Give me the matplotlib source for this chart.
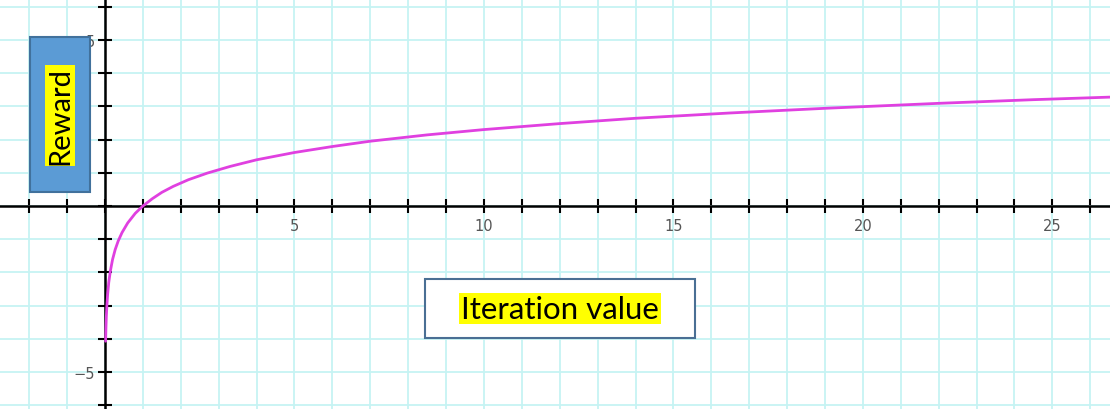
import matplotlib.pyplot as plt
from matplotlib.patches import Rectangle
from matplotlib.ticker import FixedLocator, FuncFormatter

# values
iteration = [0.017, 0.025, 0.035, 0.05, 0.07, 0.1, 0.14, 0.2, 0.27, 0.35, 0.45,
             0.6, 0.8, 1.0, 1.25, 1.5, 1.8, 2.2, 2.7, 3.3, 4.0, 5.0, 6.0, 7.0,
             8.5, 10.0, 12.0, 14.0, 16.5, 19.0, 22.0, 24.5, 26.6]
reward = [-4.07, -3.69, -3.35, -3.0, -2.66, -2.30, -1.97, -1.61, -1.31, -1.05,
          -0.80, -0.51, -0.22, 0.0, 0.22, 0.41, 0.59, 0.79, 0.99, 1.19, 1.39,
          1.61, 1.79, 1.95, 2.14, 2.30, 2.48, 2.64, 2.80, 2.94, 3.09, 3.20, 3.28]

x_ticks = list(range(-2, 27))
y_ticks = list(range(-6, 7))
x_label = "Iteration value"
y_label = "Reward"

fig = plt.figure(figsize=(11.1, 4.1), dpi=100)
ax = fig.add_axes([0, 0, 1, 1])
ax.set_xlim(-2.77, 26.52)
ax.set_ylim(-6.11, 6.23)

# graph paper grid
ax.xaxis.set_major_locator(FixedLocator(x_ticks))
ax.yaxis.set_major_locator(FixedLocator(y_ticks))
ax.grid(True, color='#c6f3f3', linewidth=1.3, zorder=0)
ax.set_axisbelow(True)

# axes through the origin
for side in ['top', 'right']:
    ax.spines[side].set_visible(False)
ax.spines['left'].set_position(('data', 0))
ax.spines['bottom'].set_position(('data', 0))
for side in ['left', 'bottom']:
    ax.spines[side].set_linewidth(1.8)
    ax.spines[side].set_color('black')

lab = FuncFormatter(lambda v, p: ('\u2212%d' % abs(v) if v < 0 else '%d' % v)
                    if v != 0 and int(v) % 5 == 0 else '')
ax.xaxis.set_major_formatter(lab)
ax.yaxis.set_major_formatter(lab)
ax.tick_params(direction='inout', length=10, width=1.5, color='black',
               labelsize=10.5, labelcolor='#555555')
ax.tick_params(axis='x', pad=4)
ax.tick_params(axis='y', pad=2)

ax.plot(iteration, reward, color='#e040e0', linewidth=2, zorder=3,
        solid_capstyle='round', solid_joinstyle='round')

# annotation boxes
ax.add_patch(Rectangle((0.027, 0.529), 0.054, 0.378, transform=ax.transAxes,
                       facecolor='#5b9bd5', edgecolor='#41719c', linewidth=1.5,
                       zorder=5))
ax.text(0.054, 0.716, y_label, transform=ax.transAxes, rotation=90,
        ha='center', va='center', fontsize=21, family='Lato', zorder=6,
        bbox=dict(boxstyle='square,pad=0.06', facecolor='yellow', edgecolor='none'))

ax.add_patch(Rectangle((0.383, 0.173), 0.243, 0.144, transform=ax.transAxes,
                       facecolor='white', edgecolor='#4a6f94', linewidth=1.5,
                       zorder=5))
ax.text(0.5045, 0.245, x_label, transform=ax.transAxes,
        ha='center', va='center', fontsize=22.5, family='Lato', zorder=6,
        bbox=dict(boxstyle='square,pad=0.06', facecolor='yellow', edgecolor='none'))

fig.savefig('out.png', dpi=100)
